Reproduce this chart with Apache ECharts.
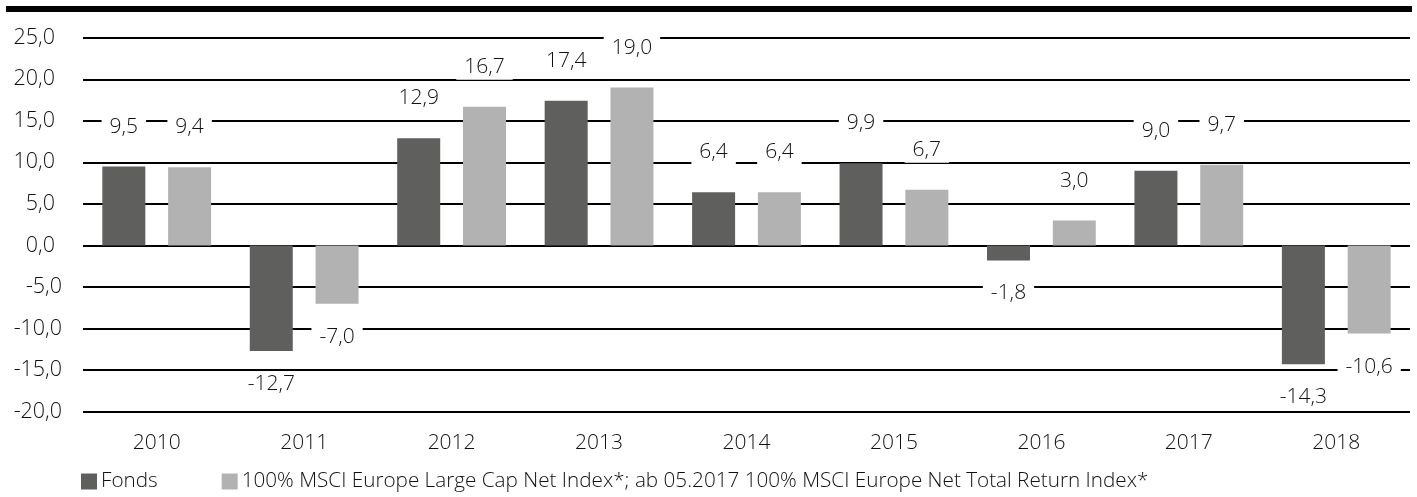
<!DOCTYPE html>
<html>
<head>
<meta charset="utf-8">
<script src="https://cdn.jsdelivr.net/npm/echarts@6/dist/echarts.min.js"></script>
<style>
html,body{margin:0;padding:0;background:#fff;}
#c{width:1417px;height:497px;}
</style>
</head>
<body>
<div id="c"></div>
<script>
const categories = ['2010','2011','2012','2013','2014','2015','2016','2017','2018'];
const fonds = [9.5, -12.7, 12.9, 17.4, 6.4, 9.9, -1.8, 9.0, -14.3];
const benchmark = [9.4, -7.0, 16.7, 19.0, 6.4, 6.7, 3.0, 9.7, -10.6];
const seriesNames = ['Fonds', '100% MSCI Europe Large Cap Net Index*; ab 05.2017 100% MSCI Europe Net Total Return Index*'];
const yMin = -20, yMax = 25, yStep = 5;

const FONT = '"Open Sans", "Noto Sans", sans-serif';
const W = 300;
const TXT = '#111';
const fmt = v => v.toFixed(1).replace('.', ',');

function items(arr) {
  return arr.map(v => ({
    value: v,
    label: v >= 0
      ? { position: 'top', distance: 27 }
      : { position: 'bottom', distance: 20 }
  }));
}

const labelStyle = {
  show: true,
  formatter: p => fmt(p.value),
  fontFamily: FONT,
  fontWeight: W,
  fontSize: 21,
  lineHeight: 22,
  color: TXT,
  backgroundColor: '#fff',
  padding: [2, 8, 2, 8]
};

const chart = echarts.init(document.getElementById('c'), null, {renderer: 'canvas'});
chart.setOption({
  animation: false,
  backgroundColor: '#fff',
  graphic: [{
    type: 'rect', left: 6, top: 6, shape: {width: 1406, height: 6},
    style: {fill: '#000'}, silent: true
  }],
  grid: {left: 83, right: 7, top: 37.7, bottom: 85.3, containLabel: false},
  legend: {
    left: 76, bottom: 0, icon: 'rect', itemWidth: 16, itemHeight: 16, itemGap: 64,
    textStyle: {fontFamily: FONT, fontWeight: W, fontSize: 20.7, color: TXT, padding: [0,0,0,-1]},
    data: seriesNames
  },
  xAxis: {
    type: 'category', data: categories,
    axisLine: {show: false}, axisTick: {show: false},
    axisLabel: {fontFamily: FONT, fontWeight: W, fontSize: 21, color: TXT, margin: 21}
  },
  yAxis: {
    type: 'value', min: yMin, max: yMax, interval: yStep,
    axisLine: {show: false}, axisTick: {show: false},
    splitLine: {lineStyle: {color: '#000', width: 2}},
    axisLabel: {
      margin: 21,
      formatter: v => (v >= 0 ? '{p|' + fmt(v) + '}' : '{n|' + fmt(v) + '}'),
      rich: {
        p: {fontFamily: FONT, fontWeight: W, fontSize: 21.5, color: TXT, padding: [0, 7, 0, 0]},
        n: {fontFamily: FONT, fontWeight: W, fontSize: 21.5, color: TXT}
      }
    }
  },
  series: [
    {
      name: seriesNames[0], type: 'bar', data: items(fonds),
      barWidth: 43, barGap: '53%',
      itemStyle: {color: '#5f5f5e'},
      label: labelStyle, z: 3
    },
    {
      name: seriesNames[1], type: 'bar', data: items(benchmark),
      barWidth: 43,
      itemStyle: {color: '#b2b2b2'},
      label: labelStyle, z: 3
    }
  ]
});
</script>
</body>
</html>
